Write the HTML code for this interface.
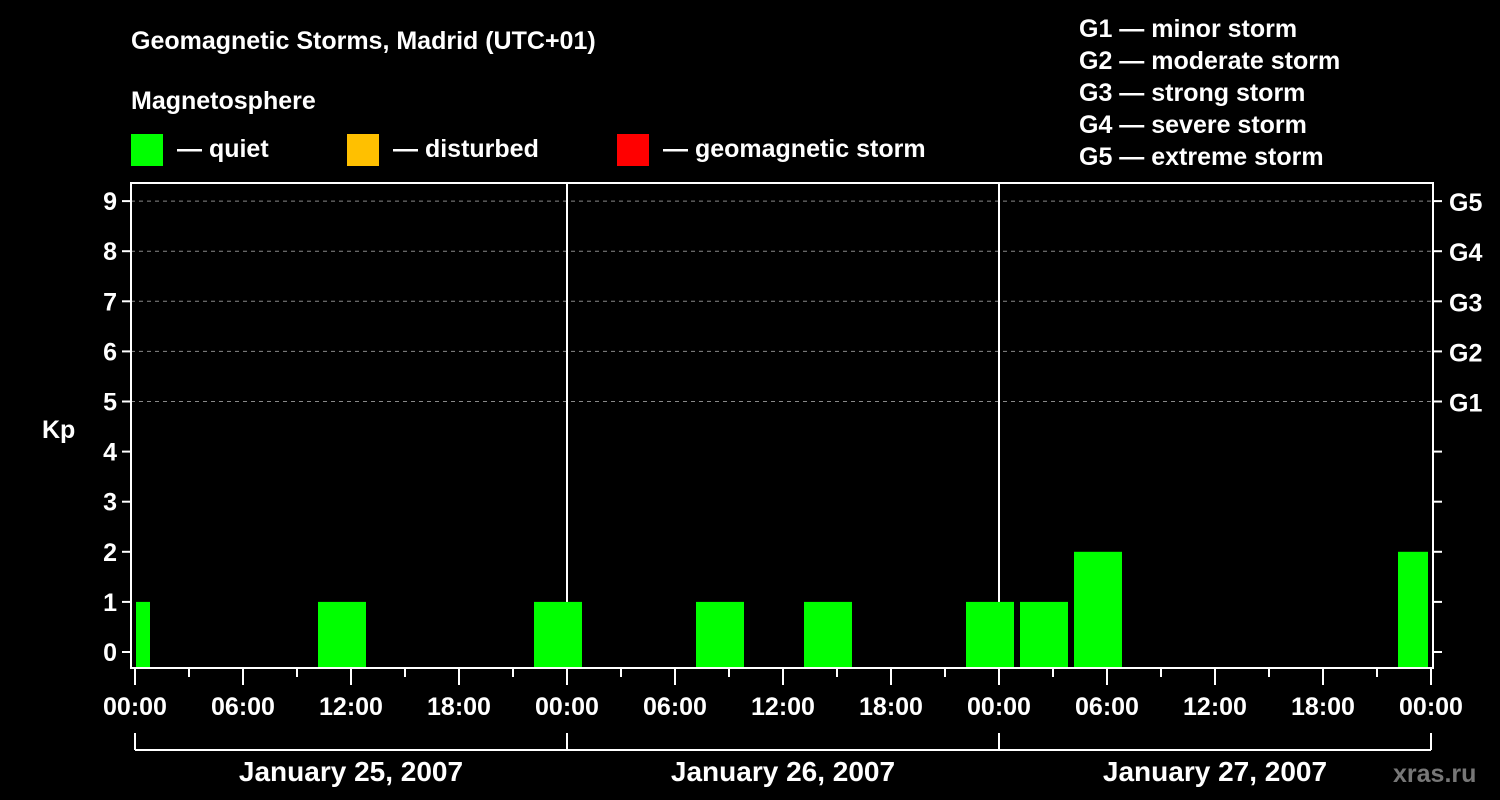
<!DOCTYPE html>
<html><head><meta charset="utf-8"><style>
body{margin:0;background:#000;width:1500px;height:800px;overflow:hidden}
svg{display:block;font-family:"Liberation Sans",Arial,sans-serif;font-weight:bold}
</style></head><body>
<svg id="chart" width="1500" height="800" viewBox="0 0 1500 800">
<rect width="1500" height="800" fill="#000"/>
<text x="131" y="49" fill="#fff" font-size="25">Geomagnetic Storms, Madrid (UTC+01)</text>
<text x="131" y="109" fill="#fff" font-size="25">Magnetosphere</text>
<g><rect x="131" y="134" width="32" height="32" fill="#00ff00"/><text x="177" y="157" fill="#fff" font-size="25">— quiet</text></g>
<g><rect x="347" y="134" width="32" height="32" fill="#ffc000"/><text x="393" y="157" fill="#fff" font-size="25">— disturbed</text></g>
<g><rect x="617" y="134" width="32" height="32" fill="#ff0000"/><text x="663" y="157" fill="#fff" font-size="25">— geomagnetic storm</text></g>
<g fill="#fff" font-size="25">
<text x="1079" y="37">G1 — minor storm</text>
<text x="1079" y="69">G2 — moderate storm</text>
<text x="1079" y="101">G3 — strong storm</text>
<text x="1079" y="133">G4 — severe storm</text>
<text x="1079" y="165">G5 — extreme storm</text>
</g>
<text x="42" y="438" fill="#fff" font-size="25">Kp</text>
<text x="1393" y="782" fill="#777" font-size="25">xras.ru</text>
<g id="grid"></g><g id="bars"></g><g id="axes"></g>
</svg>
<script>
const binStartHours=[-2,1,4,7,10,13,16,19,22,25,28,31,34,37,40,43,46,49,52,55,58,61,64,67,70];
const kpValues=[1,0,0,0,1,0,0,0,1,0,0,1,0,1,0,0,1,1,2,0,0,0,0,0,2];
const yTicks=[0,1,2,3,4,5,6,7,8,9];
const gLabels=["G1","G2","G3","G4","G5"];
const xTickLabels=["00:00","06:00","12:00","18:00"];
const dayLabels=["January 25, 2007","January 26, 2007","January 27, 2007"];
const NS="http://www.w3.org/2000/svg";
const L=131,R=1433,T=183,B=668,X0=135,PX_H=18;
const x=h=>X0+h*PX_H;
const y=v=>652-v*50.1;
function mk(tag,attrs,parent,txt){const e=document.createElementNS(NS,tag);for(const k in attrs)e.setAttribute(k,attrs[k]);if(txt!==undefined)e.textContent=txt;document.getElementById(parent).appendChild(e);return e;}
// grid
yTicks.forEach(v=>{if(v>=5){const g=mk('line',{x1:L,x2:R,y1:y(v),y2:y(v),stroke:'#888','stroke-dasharray':'4,4','stroke-width':1},'grid');

}});
for(let d=1;d<3;d++){const l=mk('line',{x1:x(d*24),x2:x(d*24),y1:T,y2:B,stroke:'#fff','stroke-width':2},'grid');

}
// bars
binStartHours.forEach((s,i)=>{const v=kpValues[i];if(v<=0)return;
let a=s,b=s+3,la=3,rb=3;if(a<0){a=0;la=1;}if(b>72){b=72;}
const x1=x(a)+la,x2=x(b)-rb;const col=v>=5?'#ff0000':(v>=4?'#ffc000':'#00ff00');
const r=mk('rect',{x:x1,y:y(v),width:x2-x1,height:B-y(v),fill:col},'bars');

});
// axes frame
const f=mk('rect',{x:L,y:T,width:R-L,height:B-T,fill:'none',stroke:'#fff','stroke-width':2},'axes');


yTicks.forEach(v=>{
mk('line',{x1:L-9,x2:L,y1:y(v),y2:y(v),stroke:'#fff','stroke-width':2},'axes');
mk('line',{x1:R,x2:R+9,y1:y(v),y2:y(v),stroke:'#fff','stroke-width':2},'axes');
const t=mk('text',{x:L-14,y:y(v)+9,fill:'#fff','font-size':25,'text-anchor':'end'},'axes',String(v));


if(v>=5){const g=mk('text',{x:1449,y:y(v)+10,fill:'#fff','font-size':25},'axes',gLabels[v-5]);

}
});
for(let h=0;h<=72;h+=3){const major=h%6===0;
mk('line',{x1:x(h),x2:x(h),y1:B,y2:major?685:677,stroke:'#fff','stroke-width':2},'axes');
if(major){const t=mk('text',{x:x(h),y:715,fill:'#fff','font-size':25,'text-anchor':'middle'},'axes',xTickLabels[(h/6)%4]);

}}
mk('line',{x1:x(0),x2:x(72),y1:750,y2:750,stroke:'#fff','stroke-width':2},'axes');
for(let d=0;d<=3;d++)mk('line',{x1:x(d*24),x2:x(d*24),y1:733,y2:750,stroke:'#fff','stroke-width':2},'axes');
dayLabels.forEach((s,d)=>{const t=mk('text',{x:x(d*24+12),y:781,fill:'#fff','font-size':28,'text-anchor':'middle'},'axes',s);

});
</script>
</body></html>
